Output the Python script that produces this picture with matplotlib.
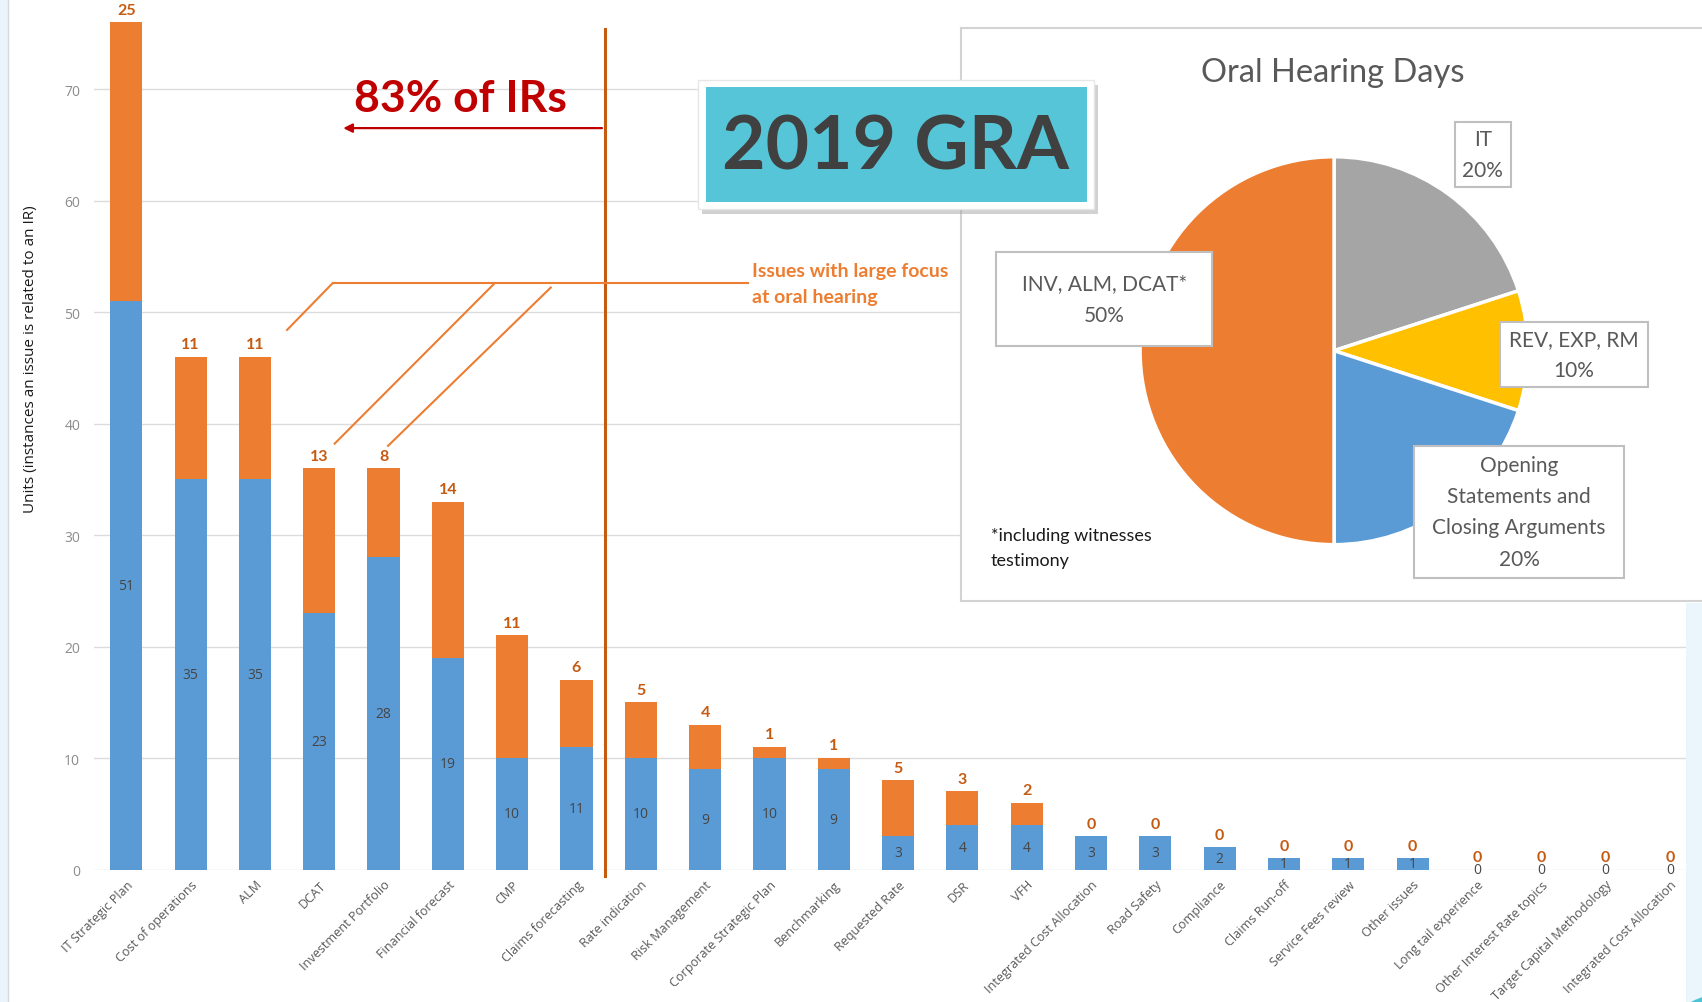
import matplotlib
matplotlib.use("Agg")
import matplotlib.pyplot as plt
from matplotlib.patches import Rectangle, Circle

plt.rcParams['font.family'] = ['Lato', 'DejaVu Sans']
FUENTE_EJE = ['Open Sans', 'DejaVu Sans']

# Datos del grafico de barras
categorias = [
    "IT Strategic Plan", "Cost of operations", "ALM", "DCAT",
    "Investment Portfolio", "Financial forecast", "CMP", "Claims forecasting",
    "Rate indication", "Risk Management", "Corporate Strategic Plan",
    "Benchmarking", "Requested Rate", "DSR", "VFH",
    "Integrated Cost Allocation", "Road Safety", "Compliance",
    "Claims Run-off", "Service Fees review", "Other issues",
    "Long tail experience", "Other Interest Rate topics",
    "Target Capital Methodology", "Integrated Cost Allocation",
]
azul = [51, 35, 35, 23, 28, 19, 10, 11, 10, 9, 10, 9, 3, 4, 4, 3, 3, 2, 1, 1, 1, 0, 0, 0, 0]
naranja = [25, 11, 11, 13, 8, 14, 11, 6, 5, 4, 1, 1, 5, 3, 2, 0, 0, 0, 0, 0, 0, 0, 0, 0, 0]
y_ticks = [0, 10, 20, 30, 40, 50, 60, 70]

# Datos del grafico circular
pie_etiquetas = ["IT", "REV, EXP, RM", "Opening\nStatements and\nClosing Arguments", "INV, ALM, DCAT*"]
pie_valores = [20, 10, 20, 50]

AZUL = '#5b9bd5'
NARANJA = '#ed7d31'
NARANJA_OSC = '#c55a11'
GRIS = '#a5a5a5'
AMARILLO = '#ffc000'

W, H = 1568.0, 924.0  # coordenadas de referencia


def fx(x):
    return x / W


def fy(y):
    return 1 - y / H


fig = plt.figure(figsize=(17.02, 10.03), dpi=100)
fig.patch.set_facecolor('white')

# bordes de la diapositiva
fig.add_artist(Rectangle((0, 0), fx(7), 1, transform=fig.transFigure,
                         facecolor='#eaf4fa', edgecolor='none', zorder=-5))
fig.add_artist(plt.Line2D([fx(7), fx(7)], [0, 1], transform=fig.transFigure,
                          color='#d5d9dc', lw=1, zorder=-4))
fig.add_artist(Rectangle((fx(1553), 0), 1 - fx(1553), fy(556), transform=fig.transFigure,
                         facecolor='#eaf6fb', edgecolor='none', zorder=1))
fig.add_artist(Circle((fx(1586), fy(940)), 39 / W, transform=fig.transFigure,
                      facecolor='#4fc3d6', edgecolor='none', zorder=1))

# ---- Barras apiladas ----
ax = fig.add_axes([0.0553, 0.1321, 0.9447, 0.867])
x = list(range(len(categorias)))
tope = [a + n for a, n in zip(azul, naranja)]
b_azul = ax.bar(x, azul, width=0.5, color=AZUL, zorder=2)
b_nar = ax.bar(x, naranja, width=0.5, bottom=azul, color=NARANJA, zorder=2)

ax.bar_label(b_azul, labels=[str(v) for v in azul], label_type='center',
             color='#454545', fontsize=10, family=FUENTE_EJE, zorder=3)
for i, (t, n) in enumerate(zip(tope, naranja)):
    ax.annotate(str(n), (i, t), xytext=(0, 4), textcoords='offset points',
                ha='center', va='bottom', color=NARANJA_OSC, fontsize=11.5,
                fontweight='bold', annotation_clip=False)

ax.set_xlim(-0.5, len(categorias) - 0.5)
ax.set_ylim(0, 78)
ax.set_yticks(y_ticks)
ax.set_xticks(x)
ax.set_xticklabels(categorias, rotation=45, ha='right', rotation_mode='anchor',
                   fontsize=9.1, color='#595959', family=FUENTE_EJE)
for t in ax.get_yticklabels():
    t.set_family(FUENTE_EJE)
ax.tick_params(axis='both', length=0)
ax.tick_params(axis='y', labelsize=10, labelcolor='#8c8c8c', pad=10)
ax.tick_params(axis='x', pad=6)
ax.yaxis.grid(True, color='#dcdcdc', lw=1)
ax.set_axisbelow(True)
for s in ax.spines.values():
    s.set_visible(False)
ax.set_ylabel("Units (instances an issue is related to an IR)", fontsize=11,
              color='#1a1a1a', family=FUENTE_EJE)
ax.yaxis.set_label_coords(-0.035, 0.588)

# linea vertical del 83%
ax.plot([7.44, 7.44], [-0.6, 75.4], color=NARANJA_OSC, lw=2.2, zorder=4, clip_on=False)
ax.annotate('', xy=(3.33, 66.5), xytext=(7.44, 66.5),
            arrowprops=dict(arrowstyle='-|>', color='#c00000', lw=1.6, mutation_scale=13))
ax.text(5.2, 69.2, "83% of IRs", ha='center', va='center', color='#c00000',
        fontsize=32, fontweight='bold')

# lineas de "Issues with large focus"
ax.plot([3.21, 9.66], [52.6, 52.6], color=NARANJA, lw=1.5, zorder=4)
ax.plot([3.21, 2.5], [52.6, 48.4], color=NARANJA, lw=1.5, zorder=4)
ax.plot([5.73, 3.24], [52.6, 38.2], color=NARANJA, lw=1.5, zorder=4)
ax.plot([6.6, 4.07], [52.2, 38.0], color=NARANJA, lw=1.5, zorder=4)
ax.text(9.73, 53.7, "Issues with large focus", color=NARANJA, fontsize=14,
        fontweight='bold', va='center', ha='left')
ax.text(9.73, 51.4, "at oral hearing", color=NARANJA, fontsize=14,
        fontweight='bold', va='center', ha='left')

# ---- Panel del grafico circular ----
panel = fig.add_axes([fx(885), fy(555), 1 - fx(885) + 0.01, fy(27) - fy(555)], zorder=2)
panel.set_facecolor('white')
panel.set_xticks([])
panel.set_yticks([])
for s in panel.spines.values():
    s.set_color('#d3d3d3')
    s.set_linewidth(1.5)

rx, ry = 176 / W, 176 / H
axp = fig.add_axes([fx(1229) - rx, fy(324) - ry, 2 * rx, 2 * ry], zorder=3)
axp.pie(pie_valores, colors=[GRIS, AMARILLO, AZUL, NARANJA], startangle=90,
        counterclock=False, radius=1,
        wedgeprops=dict(edgecolor='white', linewidth=2.5))
axp.set_xlim(-0.985, 0.985)
axp.set_ylim(-0.985, 0.985)
axp.axis('off')

fig.text(fx(1228), fy(67), "Oral Hearing Days", ha='center', va='center',
         fontsize=23.5, color='#595959', zorder=5)

# cajas de etiquetas del pie (x0, y0, x1, y1 en coordenadas de referencia)
cajas = [(1340, 113, 1392, 173), (1382, 298, 1518, 357),
         (1303, 412, 1496, 533), (918, 233, 1117, 320)]
for etiqueta, valor, (x0, y0, x1, y1) in zip(pie_etiquetas, pie_valores, cajas):
    fig.add_artist(Rectangle((fx(x0), fy(y1)), fx(x1) - fx(x0), fy(y0) - fy(y1),
                             transform=fig.transFigure, facecolor='white',
                             edgecolor='#bfbfbf', lw=1.5, zorder=6))
    fig.text(fx((x0 + x1) / 2), fy((y0 + y1) / 2), f"{etiqueta}\n{valor}%",
             ha='center', va='center', fontsize=15, color='#595959',
             linespacing=1.7, zorder=7)

fig.text(fx(913), fy(505), "*including witnesses\ntestimony", ha='left', va='center',
         fontsize=13, color='#1a1a1a', linespacing=1.7, zorder=7)

# ---- Caja "2019 GRA" ----
fig.add_artist(Rectangle((fx(647), fy(198)), fx(1012) - fx(647), fy(79) - fy(198),
                         transform=fig.transFigure, facecolor='#9a9a9a', alpha=0.45,
                         edgecolor='none', zorder=8))
fig.add_artist(Rectangle((fx(643), fy(193)), fx(1008) - fx(643), fy(75) - fy(193),
                         transform=fig.transFigure, facecolor='white',
                         edgecolor='#e6e6e6', lw=1, zorder=9))
fig.add_artist(Rectangle((fx(650), fy(187)), fx(1001) - fx(650), fy(81) - fy(187),
                         transform=fig.transFigure, facecolor='#56c5d8',
                         edgecolor='none', zorder=10))
fig.text(fx(825), fy(136), "2019 GRA", ha='center', va='center', fontsize=54,
         fontweight='bold', color='#404040', zorder=11)

fig.savefig('out.png', dpi=100)
